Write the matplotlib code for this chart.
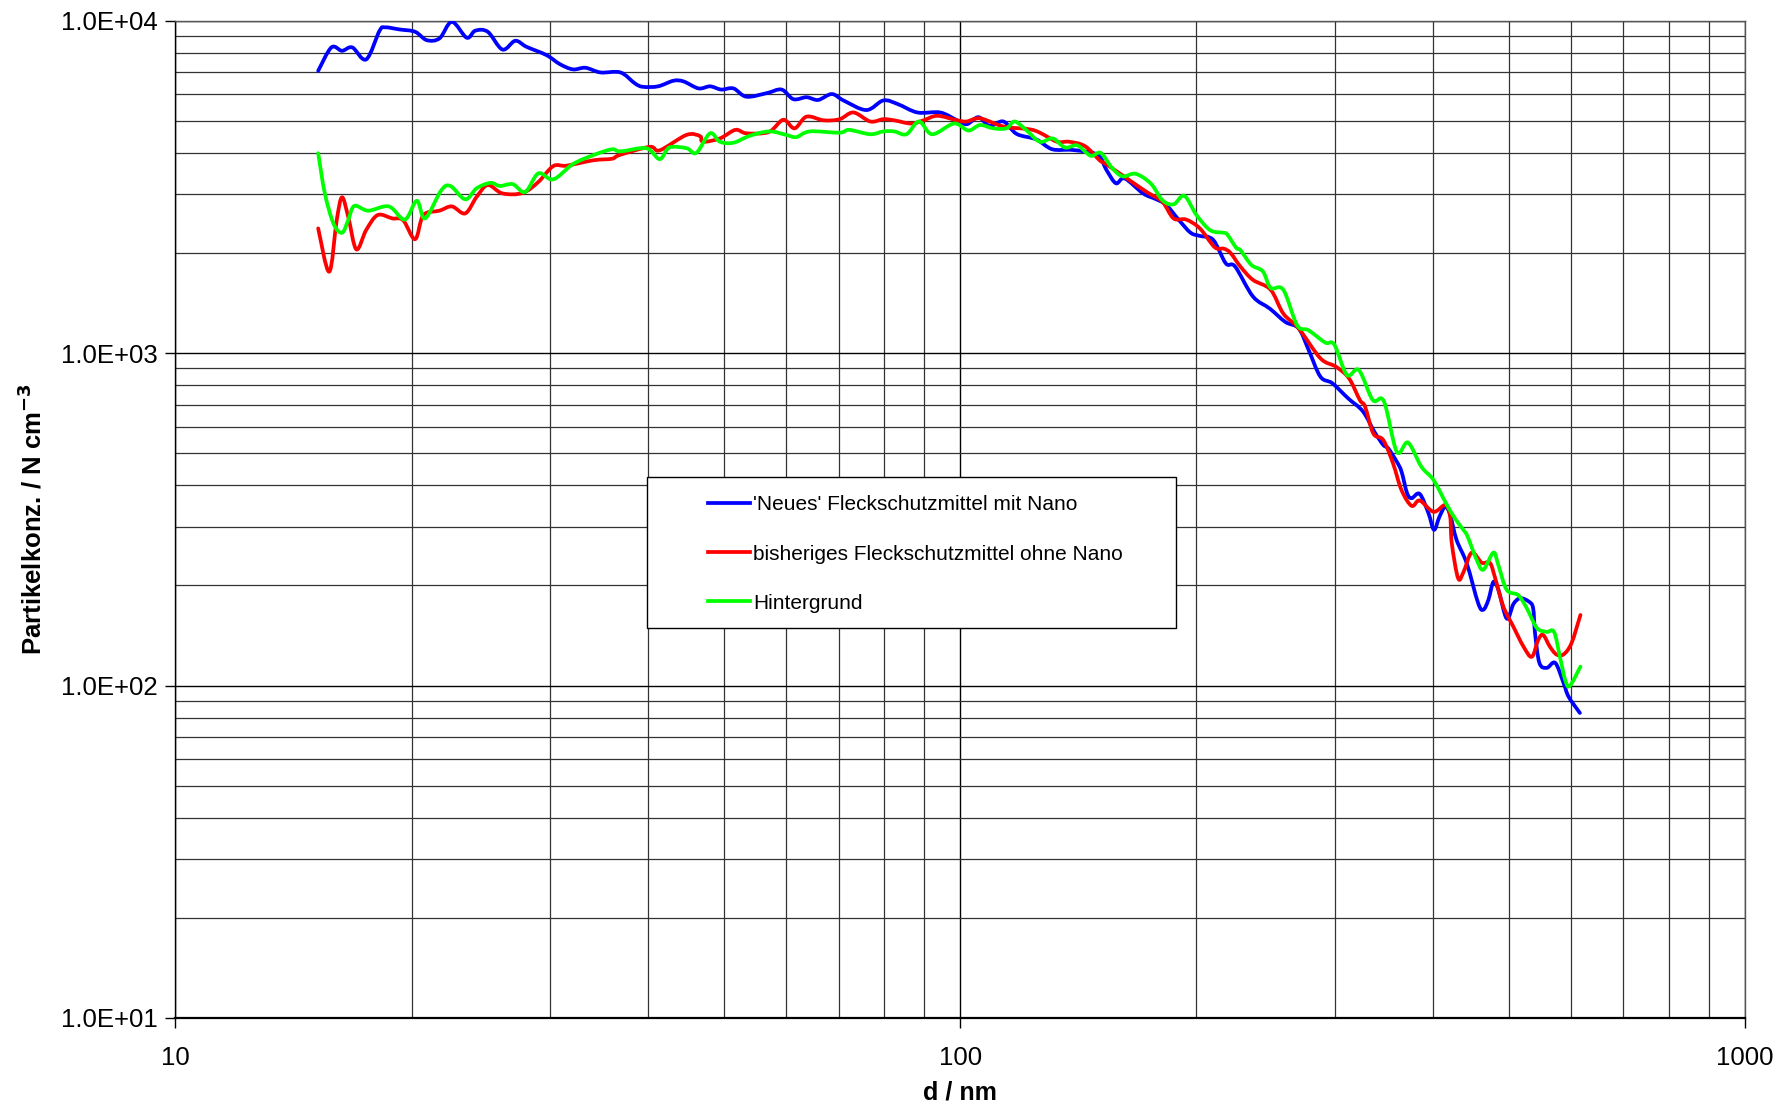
import numpy as np
import matplotlib
matplotlib.use("Agg")
import matplotlib.pyplot as plt
from matplotlib.ticker import LogLocator, FuncFormatter, NullFormatter
from matplotlib.patches import Rectangle, PathPatch
from matplotlib.path import Path
from matplotlib.lines import Line2D

plt.rcParams['font.family'] = ['Liberation Sans', 'DejaVu Sans']

# particle diameter (nm) and number concentration (N cm^-3)
d_neu = [15.2, 15.8, 16.3, 16.8, 17.5, 18.2, 18.5, 19.3, 20.2, 20.9, 21.7, 22.5,
         23.5, 24.1, 25.0, 26.1, 27.1, 28.0, 29.7, 30.9, 32.1, 33.3, 34.8, 36.9,
         38.5, 39.4, 41.2, 43.1, 44.4, 46.4, 48.0, 49.6, 51.4, 53.4, 56.7, 59.2,
         61.3, 63.7, 65.9, 68.6, 71.0, 75.9, 79.8, 83.2, 88.2, 94.3, 99.1, 102,
         105.5, 109, 113.5, 118, 125, 131, 139, 149.5, 153.6, 157.9, 162, 171,
         177.7, 183, 190, 196.6, 202, 210, 218, 224, 236, 248, 259.6, 270, 278,
         287.7, 298, 312, 326, 337, 346, 351, 360, 365, 371, 376, 385, 395,
         401.5, 408, 415, 421, 429, 442, 457, 464, 471, 478, 485, 497, 507, 517,
         530, 537, 540, 547, 559, 573, 587, 596, 616]
n_neu = [7060, 8300, 8110, 8300, 7640, 9320, 9540, 9400, 9250, 8730, 8840, 9910,
         8880, 9320, 9250, 8180, 8690, 8340, 7870, 7390, 7130, 7210, 6980, 6980,
         6470, 6320, 6340, 6590, 6560, 6250, 6340, 6200, 6250, 5900, 6050, 6200,
         5800, 5880, 5770, 6010, 5750, 5380, 5750, 5610, 5290, 5290, 5010, 4880,
         5120, 4820, 4970, 4560, 4390, 4100, 4080, 3950, 3550, 3240, 3350, 3020,
         2900, 2790, 2510, 2300, 2250, 2190, 1860, 1820, 1480, 1360, 1240, 1185, 1020,
         849, 811, 731, 667, 580, 529, 517, 471, 440, 379, 366, 377, 330,
         294, 322, 345, 326, 274, 233, 177, 169, 181, 205, 194, 159, 176, 183,
         179, 171, 144, 117, 113, 117, 102, 92.5, 82.7]

d_alt = [15.2, 15.7, 16.05, 16.3, 16.6, 17.0, 17.5, 18.1, 18.9, 19.5, 20.2, 20.7,
         21.7, 22.5, 23.4, 24.2, 25.0, 26.1, 27.7, 29.0, 30.3, 31.5, 34.1, 36.0,
         36.8, 40.2, 41.4, 44.8, 46.6, 47.0, 49.4, 51.7, 53.4, 57.0, 59.5, 61.5,
         63.7, 67.0, 70.2, 73.1, 76.8, 79.8, 82.4, 86.6, 89.8, 93.5, 99.1, 101.9,
         106, 113.5, 122.4, 126.3, 132.8, 137.6, 144.2, 150.5, 152.8, 159.6, 169,
         174, 181, 187, 194, 202, 211, 216.7, 221, 227.5, 236, 248.6, 258, 270,
         287.7, 301, 312.8, 323, 328, 336, 346, 356, 365, 376, 385, 401, 415, 421,
         423, 431, 438, 448.5, 462, 473, 480, 492, 507, 522, 535, 545, 553, 564,
         575, 587, 601, 617]
n_alt = [2370, 1756, 2512, 2940, 2570, 2050, 2345, 2600, 2540, 2510, 2200, 2600,
         2680, 2760, 2630, 2950, 3200, 3020, 3030, 3270, 3650, 3660, 3800, 3840,
         3940, 4170, 4070, 4530, 4490, 4320, 4420, 4690, 4580, 4620, 5030, 4740,
         5140, 5010, 5050, 5290, 4970, 5050, 5010, 4900, 5010, 5170, 5010, 4970,
         5080, 4800, 4710, 4600, 4320, 4320, 4190, 3800, 3720, 3470, 3160,
         3020, 2850, 2540, 2520, 2370, 2080, 2060, 2000, 1820, 1660, 1550, 1315, 1185,
         964, 910, 840, 722, 690, 573, 547, 466, 387, 347, 360, 333, 349, 322,
         268, 210, 220, 251, 234, 234, 212, 173, 150, 131, 122, 137, 142, 131,
         124, 124, 134, 163]

d_hg = [15.2, 15.5, 15.9, 16.3, 16.6, 16.9, 17.6, 18.7, 19.6, 20.3, 20.8, 21.8,
        22.4, 23.4, 24.2, 25.2, 25.9, 26.9, 27.9, 29.0, 30.3, 32.1, 34.1, 36.0,
        36.9, 39.8, 41.4, 42.6, 44.8, 46.1, 48.0, 49.4, 51.4, 53.9, 57.1, 60.0,
        61.8, 64.3, 70.2, 72.2, 76.8, 79.8, 82.4, 85.4, 88.6, 92.1, 98.2, 102.4,
        106, 110.2, 114.5, 117.3, 121.3, 126.3, 131.2, 136, 141, 146.6, 151, 156,
        161, 167.3, 175, 181, 187, 193, 200, 208.3, 216.7, 219, 224.8, 227.5, 235,
        243, 248.6, 258, 268.7, 278, 291.8, 299.7, 311, 322, 335.5, 346.6, 360,
        372, 386.9, 401, 416, 427, 437.6, 443, 455, 464, 478, 485, 497, 514, 527,
        543, 559, 571, 581, 590, 598, 617]
n_hg = [3990, 3020, 2450, 2300, 2510, 2770, 2680, 2760, 2520, 2870, 2540, 3080,
        3180, 2900, 3130, 3250, 3180, 3220, 3050, 3470, 3330, 3700, 3940, 4100,
        4040, 4130, 3830, 4150, 4130, 4000, 4580, 4320, 4290, 4500, 4640, 4530,
        4460, 4640, 4600, 4690, 4550, 4640, 4640, 4550, 4970, 4550, 4900, 4670,
        4850, 4740, 4740, 4970, 4690, 4320, 4420, 4150, 4210, 3920, 4000, 3610,
        3400, 3460, 3230, 2880, 2800, 2970, 2600, 2340, 2300, 2270, 2070, 2040, 1840,
        1760, 1570, 1550, 1213, 1170, 1075, 1060, 859, 889, 722, 716, 505,
        538, 455, 415, 353, 318, 294, 281, 239, 223, 251, 230, 194, 187, 171,
        149, 145, 145, 122, 104, 99.7, 114]

labels = ["'Neues' Fleckschutzmittel mit Nano",
          "bisheriges Fleckschutzmittel ohne Nano",
          "Hintergrund"]
colors = ['#0000ff', '#ff0000', '#00ff00']


def smooth_path(x, y):
    """Excel-like smoothed line: Catmull-Rom segments as cubic Bezier (in log space)."""
    p = np.column_stack([np.log10(x), np.log10(y)])
    ext = np.vstack([p[0], p, p[-1]])
    verts = [p[0]]
    codes = [Path.MOVETO]
    for i in range(len(p) - 1):
        p0, p1, p2, p3 = ext[i], ext[i + 1], ext[i + 2], ext[i + 3]
        c1 = p1 + (p2 - p0) / 6.0
        c2 = p2 - (p3 - p1) / 6.0
        verts += [c1, c2, p2]
        codes += [Path.CURVE4] * 3
    verts = 10 ** np.array(verts)
    return Path(verts, codes)


fig = plt.figure(figsize=(17.87, 11.04), dpi=100)
ax = fig.add_axes([0.0982, 0.0779, 0.8783, 0.9035])

handles = []
for d, n, c, lab in zip([d_neu, d_alt, d_hg], [n_neu, n_alt, n_hg], colors, labels):
    patch = PathPatch(smooth_path(d, n), facecolor='none', edgecolor=c, lw=2.7,
                      joinstyle='round', capstyle='round', zorder=3)
    ax.add_patch(patch)
    handles.append(Line2D([], [], color=c, lw=2.7, label=lab))

ax.set_xscale('log')
ax.set_yscale('log')
ax.set_xlim(10, 1000)
ax.set_ylim(10, 10000)

ax.xaxis.set_major_locator(LogLocator(base=10, numticks=10))
ax.xaxis.set_minor_locator(LogLocator(base=10, subs=np.arange(2, 10), numticks=20))
ax.yaxis.set_major_locator(LogLocator(base=10, numticks=10))
ax.yaxis.set_minor_locator(LogLocator(base=10, subs=np.arange(2, 10), numticks=20))
ax.xaxis.set_major_formatter(FuncFormatter(lambda v, p: f"{v:.0f}"))
ax.yaxis.set_major_formatter(FuncFormatter(lambda v, p: f"{v:.1E}"))
ax.xaxis.set_minor_formatter(NullFormatter())
ax.yaxis.set_minor_formatter(NullFormatter())

ax.grid(True, which='major', color='black', lw=1.0, zorder=1)
ax.grid(True, which='minor', color='#333333', lw=0.9, zorder=1)
ax.set_axisbelow(True)

ax.tick_params(which='major', direction='out', length=7, width=1, labelsize=18.5,
               color='black', pad=6)
ax.tick_params(which='minor', length=0)
ax.tick_params(axis='x', pad=13)
for s in ax.spines.values():
    s.set_color('#555555')
    s.set_linewidth(1)
ax.spines['left'].set_color('black')
ax.spines['bottom'].set_color('black')
ax.spines['bottom'].set_linewidth(1.6)

ax.set_xlabel('d / nm', fontsize=18, fontweight='bold', labelpad=8)
ax.set_ylabel('Partikelkonz. / N cm$^{\\mathbf{-3}}$', fontsize=18.5,
              fontweight='bold', labelpad=10)

# legend box drawn separately (it is wider than its entries)
box = Rectangle((0.3004, 0.391), 0.3371, 0.1514, transform=ax.transAxes,
                facecolor='white', edgecolor='black', lw=1, zorder=4)
ax.add_patch(box)
leg = ax.legend(handles=handles, loc='upper left', bbox_to_anchor=(0.3395, 0.524),
                frameon=False, fontsize=15, handlelength=2.0, handletextpad=0.15,
                labelspacing=1.45, borderaxespad=0, borderpad=0)
leg.set_zorder(5)

fig.savefig('out.png', dpi=100)
